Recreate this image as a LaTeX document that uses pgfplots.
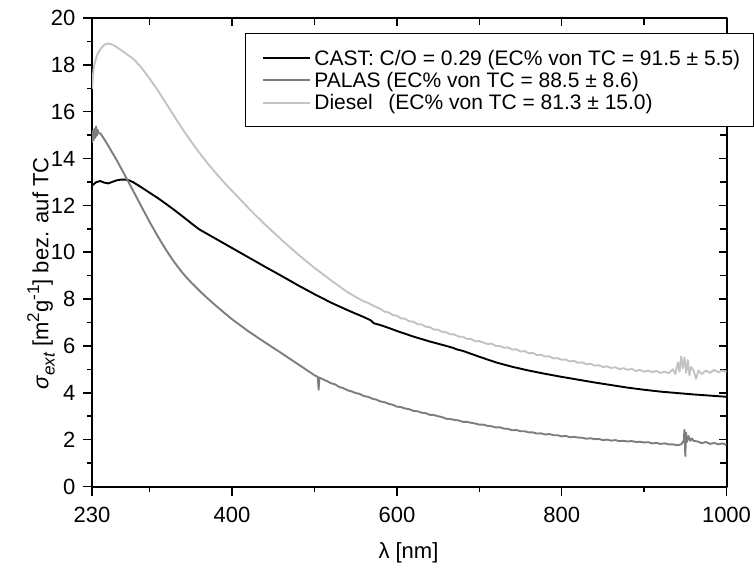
\documentclass[border=0pt]{standalone}
\usepackage{fontspec}
\setmainfont{Liberation Sans}
\usepackage{pgfplots}
\pgfplotsset{compat=1.18}
\definecolor{palas}{RGB}{125,125,125}
\definecolor{diesel}{RGB}{195,195,195}
\newcommand{\sups}[1]{\raisebox{0.42em}{\fontsize{17}{17}\selectfont #1}}
\newcommand{\subs}[1]{\raisebox{-0.28em}{\fontsize{17}{17}\selectfont #1}}
\begin{document}
\begin{tikzpicture}
\begin{axis}[scale only axis, width=634.5pt, height=468.5pt,
  xmin=230, xmax=1000, ymin=0, ymax=20,
  xtick={230,400,600,800,1000}, minor xtick={300,500,700,900},
  ytick={0,2,...,20}, minor ytick={1,3,...,19},
  tick align=inside, xtick pos=right, ytick pos=right,
  major tick length=8pt, minor tick length=7pt,
  every tick/.style={black, line width=1.5pt},
  axis line style={draw=none},
  xticklabels={}, yticklabels={},
]
\end{axis}
\begin{axis}[name=ax, scale only axis, width=634.5pt, height=468.5pt,
  xmin=230, xmax=1000, ymin=0, ymax=20,
  xtick={230,400,600,800,1000}, minor xtick={300,500,700,900},
  ytick={0,2,...,20}, minor ytick={1,3,...,19},
  tick align=outside, xtick pos=left, ytick pos=left,
  major tick length=9pt, minor tick length=5pt,
  axis line style={line width=2pt},
  every tick/.style={black, line width=1.5pt},
  /pgf/number format/assume math mode=true,
  /pgf/number format/1000 sep={},
  ticklabel style={font=\fontsize{22}{26}\selectfont},
  xticklabel style={yshift=-8pt},
  yticklabel style={xshift=-4pt},
  label style={font=\fontsize{22}{26}\selectfont},
  xlabel={λ [nm]},
  ylabel={\textit{σ}\subs{\textit{ext}} [m\sups{2}g\sups{-1}] bez. auf TC},
  xlabel style={at={(axis description cs:0.4988,-0.142)}, anchor=center},
  ylabel style={at={(axis description cs:-0.0804,0.4546)}, anchor=center},
  legend style={at={(0.2411,0.9673)}, anchor=north west, draw=black, line width=1pt,
    font=\fontsize{21}{25}\selectfont, fill=white,
    inner xsep=10pt, inner ysep=15pt, row sep=3.5pt,
    nodes={inner xsep=3pt, inner ysep=1pt}},
  legend cell align=left,
  legend image code/.code={\path (-7pt,0pt); \draw[#1] (0pt,0pt) -- (47pt,0pt);},
  line join=round,
]
\addplot[black, line width=1.9pt] coordinates {
(230,12.84) (235,12.99) (240,13.04) (245,12.97) (250,12.94) (255,13.01) (260,13.07)
(265,13.10) (270,13.10) (275,13.07) (280,12.99) (290,12.77) (300,12.54) (310,12.31)
(320,12.06) (330,11.80) (340,11.53) (350,11.25) (360,10.98) (370,10.78) (380,10.58)
(390,10.38) (400,10.18) (420,9.78) (440,9.38) (460,8.99) (480,8.59) (500,8.21)
(520,7.85) (540,7.53) (560,7.23) (568,7.10) (572,6.97) (580,6.89) (590,6.77)
(600,6.64) (620,6.40) (640,6.19) (660,6.00) (668,5.92) (672,5.86) (680,5.79)
(700,5.54) (720,5.30) (740,5.11) (760,4.95) (780,4.81) (800,4.68) (820,4.56)
(840,4.44) (860,4.33) (880,4.22) (900,4.13) (920,4.05) (940,3.99) (960,3.93)
(980,3.88) (1000,3.83)
};
\addlegendentry{CAST: C/O = 0.29 (EC\% von TC = 91.5 ± 5.5)}
\addplot[palas, line width=1.9pt] coordinates {
(230,14.68) (231,15.17) (232,14.78) (233,15.27) (234,14.88) (235,15.37) (236,14.98)
(237,15.22) (238,15.08) (240,15.08) (243,14.93) (250,14.53) (260,13.93) (270,13.28)
(280,12.62) (290,11.95) (300,11.29) (310,10.67) (320,10.09) (330,9.57) (340,9.11)
(350,8.72) (360,8.37) (370,8.04) (380,7.73) (390,7.43) (400,7.14) (420,6.62)
(440,6.15) (460,5.69) (480,5.22) (500,4.75) (504,4.68) (505,4.13) (506,4.65)
(515,4.50) (520,4.41) (525,4.36) (530,4.25) (535,4.20) (540,4.11) (545,4.06)
(550,3.99) (555,3.95) (560,3.86) (565,3.83) (570,3.75) (575,3.71) (580,3.63)
(585,3.60) (590,3.53) (595,3.49) (600,3.41) (605,3.39) (610,3.33) (615,3.30)
(620,3.23) (625,3.21) (630,3.15) (635,3.13) (640,3.06) (645,3.05) (650,3.0)
(655,2.96) (660,2.89) (665,2.88) (670,2.84) (675,2.82) (680,2.76) (685,2.76)
(690,2.72) (695,2.69) (700,2.64) (705,2.64) (710,2.59) (715,2.57) (720,2.52)
(725,2.53) (730,2.47) (735,2.46) (740,2.40) (745,2.41) (750,2.36) (755,2.36)
(760,2.31) (765,2.31) (770,2.26) (775,2.27) (780,2.22) (785,2.24) (790,2.19)
(795,2.19) (800,2.14) (805,2.16) (810,2.10) (815,2.12) (820,2.09) (825,2.08)
(830,2.04) (835,2.06) (840,2.02) (845,2.03) (850,1.98) (855,2.0) (860,1.96)
(865,1.98) (870,1.94) (875,1.95) (880,1.92) (885,1.94) (890,1.90) (895,1.91)
(900,1.88) (905,1.89) (910,1.84) (915,1.86) (920,1.82) (925,1.84) (930,1.80)
(935,1.80) (940,1.76) (945,1.80) (948,1.95) (949,2.42) (950,1.30) (951,2.30)
(952,1.90) (954,2.15) (956,1.95) (958,2.05) (960,1.95) (965,1.92) (970,1.85)
(975,1.90) (980,1.82) (985,1.86) (990,1.80) (995,1.84) (1000,1.77)
};
\addlegendentry{PALAS (EC\% von TC = 88.5 ± 8.6)}
\addplot[diesel, line width=1.9pt] coordinates {
(230,16.97) (231,17.46) (232,17.86) (234,18.16) (236,18.41) (240,18.66) (245,18.86)
(250,18.91) (255,18.86) (260,18.76) (270,18.51) (280,18.26) (290,17.88) (300,17.41)
(310,16.90) (320,16.35) (330,15.80) (340,15.25) (350,14.74) (360,14.26) (370,13.81)
(380,13.39) (390,12.99) (400,12.62) (410,12.25) (420,11.88) (430,11.53) (440,11.18)
(450,10.86) (460,10.53) (470,10.22) (480,9.91) (490,9.62) (500,9.33) (510,9.07)
(520,8.80) (530,8.55) (540,8.30) (550,8.09) (560,7.90) (565,7.84) (570,7.74)
(575,7.66) (580,7.58) (585,7.46) (590,7.43) (595,7.32) (600,7.29) (605,7.18)
(610,7.16) (615,7.05) (620,7.04) (625,6.93) (630,6.92) (635,6.82) (640,6.80)
(645,6.70) (650,6.69) (655,6.60) (660,6.58) (665,6.50) (670,6.49) (675,6.40)
(680,6.39) (685,6.30) (690,6.30) (695,6.20) (700,6.21) (710,6.08) (715,6.10)
(720,6.00) (725,6.00) (730,5.92) (735,5.94) (740,5.84) (745,5.86) (750,5.76)
(755,5.78) (760,5.69) (765,5.70) (770,5.61) (775,5.62) (780,5.55) (785,5.56)
(790,5.47) (795,5.48) (800,5.41) (805,5.42) (810,5.34) (815,5.36) (820,5.28)
(825,5.30) (830,5.22) (835,5.24) (840,5.16) (845,5.18) (850,5.10) (855,5.13)
(860,5.06) (865,5.09) (870,5.01) (875,5.05) (880,4.98) (885,5.02) (890,4.93)
(895,4.98) (900,4.90) (905,4.95) (910,4.88) (915,4.93) (920,4.85) (925,4.90)
(930,4.84) (935,5.00) (938,4.80) (941,5.30) (943,4.90) (945,5.55) (947,5.05)
(949,5.50) (951,4.85) (953,5.40) (955,4.75) (957,5.10) (960,4.95) (963,4.60)
(966,4.95) (970,4.80) (975,4.95) (980,4.85) (985,4.98) (990,4.88) (995,4.95)
(1000,4.90)
};
\addlegendentry{Diesel\hspace{0.75em}(EC\% von TC = 81.3 ± 15.0)}
\end{axis}
\pgfresetboundingbox
\path[use as bounding box] (ax.south west) ++(-92pt,-83.5pt) rectangle ++(754pt,570pt);
\end{tikzpicture}
\end{document}
